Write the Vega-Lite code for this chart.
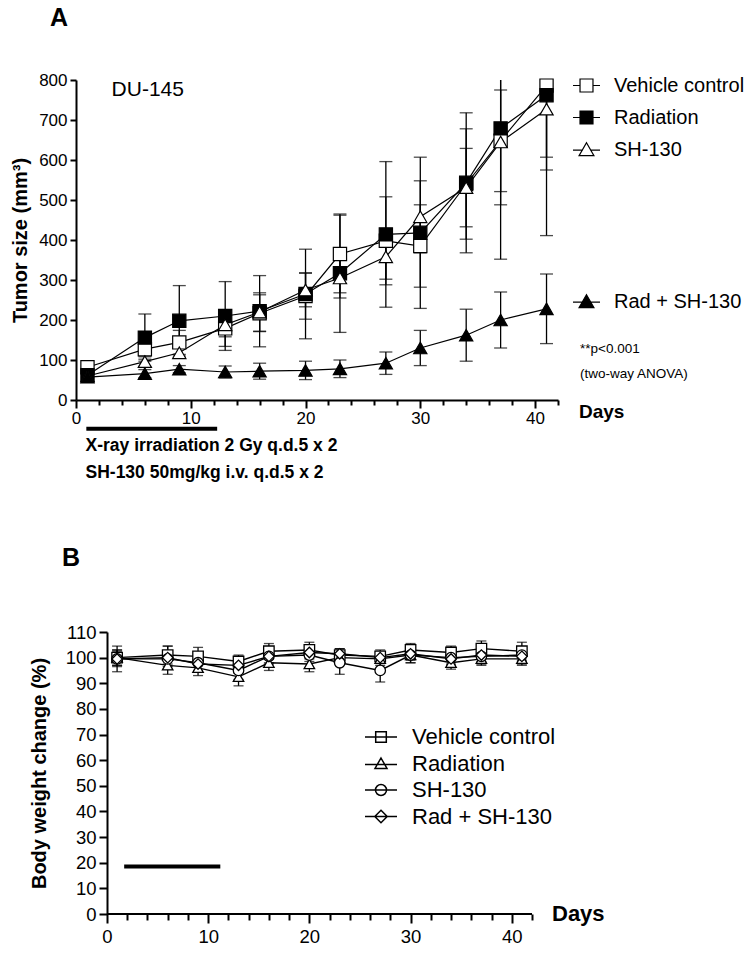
{
  "$schema": "https://vega.github.io/schema/vega-lite/v6.json",
  "background": "white",
  "padding": {"left": 10, "top": 6, "right": 5, "bottom": 5},
  "spacing": 65,
  "resolve": {"scale": {"shape": "independent", "fill": "independent", "x": "independent", "y": "independent"}, "legend": {"shape": "independent", "fill": "independent"}},
  "config": {
    "font": "Liberation Sans",
    "view": {"stroke": null},
    "axis": {"grid": false, "labelOverlap": false, "domainColor": "black", "domainWidth": 2, "tickColor": "black", "tickWidth": 2, "labelColor": "black", "titleColor": "black", "labelFont": "Liberation Sans", "titleFont": "Liberation Sans"},
    "legend": {"labelFont": "Liberation Sans", "labelColor": "black"},
    "text": {"font": "Liberation Sans", "color": "black"}
  },
  "datasets": {
    "tumor": [
      {"day": 1, "group": "Vehicle control", "mean": 82, "sem": 8},
      {"day": 6, "group": "Vehicle control", "mean": 127, "sem": 25},
      {"day": 9, "group": "Vehicle control", "mean": 144, "sem": 30},
      {"day": 13, "group": "Vehicle control", "mean": 179, "sem": 45},
      {"day": 16, "group": "Vehicle control", "mean": 217, "sem": 46},
      {"day": 20, "group": "Vehicle control", "mean": 260, "sem": 58},
      {"day": 23, "group": "Vehicle control", "mean": 365, "sem": 97},
      {"day": 27, "group": "Vehicle control", "mean": 398, "sem": 110},
      {"day": 30, "group": "Vehicle control", "mean": 385, "sem": 103},
      {"day": 34, "group": "Vehicle control", "mean": 540, "sem": 138},
      {"day": 37, "group": "Vehicle control", "mean": 648, "sem": 127},
      {"day": 41, "group": "Vehicle control", "mean": 786, "sem": 179},
      {"day": 1, "group": "Radiation", "mean": 62, "sem": 6},
      {"day": 6, "group": "Radiation", "mean": 156, "sem": 59},
      {"day": 9, "group": "Radiation", "mean": 198, "sem": 88},
      {"day": 13, "group": "Radiation", "mean": 210, "sem": 86},
      {"day": 16, "group": "Radiation", "mean": 222, "sem": 89},
      {"day": 20, "group": "Radiation", "mean": 265, "sem": 112},
      {"day": 23, "group": "Radiation", "mean": 317, "sem": 148},
      {"day": 27, "group": "Radiation", "mean": 414, "sem": 182},
      {"day": 30, "group": "Radiation", "mean": 418, "sem": 189},
      {"day": 34, "group": "Radiation", "mean": 543, "sem": 175},
      {"day": 37, "group": "Radiation", "mean": 679, "sem": 327},
      {"day": 41, "group": "Radiation", "mean": 762, "sem": 351},
      {"day": 1, "group": "SH-130", "mean": 60, "sem": 6},
      {"day": 6, "group": "SH-130", "mean": 96, "sem": 12},
      {"day": 9, "group": "SH-130", "mean": 118, "sem": 12},
      {"day": 13, "group": "SH-130", "mean": 188, "sem": 30},
      {"day": 16, "group": "SH-130", "mean": 220, "sem": 48},
      {"day": 20, "group": "SH-130", "mean": 275, "sem": 42},
      {"day": 23, "group": "SH-130", "mean": 305, "sem": 50},
      {"day": 27, "group": "SH-130", "mean": 358, "sem": 56},
      {"day": 30, "group": "SH-130", "mean": 458, "sem": 90},
      {"day": 34, "group": "SH-130", "mean": 531, "sem": 98},
      {"day": 37, "group": "SH-130", "mean": 645, "sem": 157},
      {"day": 41, "group": "SH-130", "mean": 727, "sem": 152},
      {"day": 1, "group": "Rad + SH-130", "mean": 57, "sem": 7},
      {"day": 6, "group": "Rad + SH-130", "mean": 66, "sem": 10},
      {"day": 9, "group": "Rad + SH-130", "mean": 77, "sem": 9},
      {"day": 13, "group": "Rad + SH-130", "mean": 70, "sem": 15},
      {"day": 16, "group": "Rad + SH-130", "mean": 72, "sem": 20},
      {"day": 20, "group": "Rad + SH-130", "mean": 74, "sem": 23},
      {"day": 23, "group": "Rad + SH-130", "mean": 78, "sem": 22},
      {"day": 27, "group": "Rad + SH-130", "mean": 92, "sem": 28},
      {"day": 30, "group": "Rad + SH-130", "mean": 130, "sem": 44},
      {"day": 34, "group": "Rad + SH-130", "mean": 162, "sem": 65},
      {"day": 37, "group": "Rad + SH-130", "mean": 200, "sem": 70},
      {"day": 41, "group": "Rad + SH-130", "mean": 228, "sem": 87}
    ],
    "weight": [
      {"day": 1, "group": "Vehicle control", "mean": 100, "sem": 3},
      {"day": 6, "group": "Vehicle control", "mean": 101, "sem": 3.5},
      {"day": 9, "group": "Vehicle control", "mean": 100.5, "sem": 3.5},
      {"day": 13, "group": "Vehicle control", "mean": 98.5, "sem": 2.5},
      {"day": 16, "group": "Vehicle control", "mean": 102.5, "sem": 3},
      {"day": 20, "group": "Vehicle control", "mean": 103, "sem": 3},
      {"day": 23, "group": "Vehicle control", "mean": 101, "sem": 2.5},
      {"day": 27, "group": "Vehicle control", "mean": 100.5, "sem": 2.5},
      {"day": 30, "group": "Vehicle control", "mean": 103, "sem": 2.5},
      {"day": 34, "group": "Vehicle control", "mean": 102, "sem": 2.5},
      {"day": 37, "group": "Vehicle control", "mean": 103.5, "sem": 3},
      {"day": 41, "group": "Vehicle control", "mean": 102.5, "sem": 3.5},
      {"day": 1, "group": "Radiation", "mean": 100, "sem": 3},
      {"day": 6, "group": "Radiation", "mean": 97, "sem": 3.5},
      {"day": 9, "group": "Radiation", "mean": 96, "sem": 3},
      {"day": 13, "group": "Radiation", "mean": 92.5, "sem": 3.5},
      {"day": 16, "group": "Radiation", "mean": 98, "sem": 3},
      {"day": 20, "group": "Radiation", "mean": 97.5, "sem": 3},
      {"day": 23, "group": "Radiation", "mean": 100, "sem": 2.5},
      {"day": 27, "group": "Radiation", "mean": 99.5, "sem": 2.5},
      {"day": 30, "group": "Radiation", "mean": 101, "sem": 3},
      {"day": 34, "group": "Radiation", "mean": 98, "sem": 2.5},
      {"day": 37, "group": "Radiation", "mean": 99.5, "sem": 2.5},
      {"day": 41, "group": "Radiation", "mean": 99.5, "sem": 2.5},
      {"day": 1, "group": "SH-130", "mean": 99.5, "sem": 5},
      {"day": 6, "group": "SH-130", "mean": 99.5, "sem": 3},
      {"day": 9, "group": "SH-130", "mean": 98, "sem": 3},
      {"day": 13, "group": "SH-130", "mean": 95, "sem": 3.5},
      {"day": 16, "group": "SH-130", "mean": 100.5, "sem": 2.5},
      {"day": 20, "group": "SH-130", "mean": 101, "sem": 2.5},
      {"day": 23, "group": "SH-130", "mean": 98, "sem": 4.5},
      {"day": 27, "group": "SH-130", "mean": 95, "sem": 4.5},
      {"day": 30, "group": "SH-130", "mean": 101, "sem": 3},
      {"day": 34, "group": "SH-130", "mean": 100, "sem": 2.5},
      {"day": 37, "group": "SH-130", "mean": 100.5, "sem": 3},
      {"day": 41, "group": "SH-130", "mean": 101, "sem": 2.5},
      {"day": 1, "group": "Rad + SH-130", "mean": 99.5, "sem": 3},
      {"day": 6, "group": "Rad + SH-130", "mean": 100, "sem": 4.5},
      {"day": 9, "group": "Rad + SH-130", "mean": 97.5, "sem": 3},
      {"day": 13, "group": "Rad + SH-130", "mean": 97, "sem": 3},
      {"day": 16, "group": "Rad + SH-130", "mean": 100.5, "sem": 3},
      {"day": 20, "group": "Rad + SH-130", "mean": 102, "sem": 2.5},
      {"day": 23, "group": "Rad + SH-130", "mean": 101.5, "sem": 2},
      {"day": 27, "group": "Rad + SH-130", "mean": 100, "sem": 2},
      {"day": 30, "group": "Rad + SH-130", "mean": 101.5, "sem": 2.5},
      {"day": 34, "group": "Rad + SH-130", "mean": 99.5, "sem": 2.5},
      {"day": 37, "group": "Rad + SH-130", "mean": 101, "sem": 2.5},
      {"day": 41, "group": "Rad + SH-130", "mean": 100.5, "sem": 3}
    ]
  },
  "vconcat": [
    {
      "width": 482,
      "height": 320,
      "title": {"text": "A", "anchor": "start", "frame": "group", "dx": -26, "offset": 40, "fontSize": 25, "fontWeight": "bold", "font": "Liberation Sans", "color": "black"},
      "data": {"name": "tumor"},
      "resolve": {"scale": {"shape": "independent", "fill": "independent"}, "legend": {"shape": "independent"}},
      "layer": [
        {
          "mark": {"type": "errorbar", "color": "black", "clip": true, "ticks": {"size": 13, "thickness": 1.3, "color": "black"}, "rule": {"strokeWidth": 1.3, "color": "black"}},
          "encoding": {
            "x": {"field": "day", "type": "quantitative", "scale": {"domain": [0, 42], "nice": false, "zero": false},
              "axis": {"values": [0,2,4,6,8,10,12,14,16,18,20,22,24,26,28,30,32,34,36,38,40,42], "tickCount": 100, "format": "d", "labelExpr": "datum.value % 10 === 0 ? datum.label : ''", "tickSize": {"condition": {"test": "datum.value % 10 === 0", "value": 8}, "value": 5}, "labelFontSize": 17, "labelPadding": 2, "labelFlush": false,
                "title": ["X-ray irradiation 2 Gy q.d.5 x 2", "SH-130 50mg/kg i.v. q.d.5 x 2"], "titleFontSize": 17.5, "titleFontWeight": "bold", "titleAnchor": "start", "titleAlign": "left", "titleX": 9, "titleY": 45, "titleBaseline": "middle", "titleLineHeight": 27}},
            "y": {"field": "mean", "type": "quantitative", "scale": {"domain": [0, 800], "nice": false},
              "axis": {"values": [0,100,200,300,400,500,600,700,800], "tickCount": 100, "format": "d", "tickSize": 6, "labelPadding": 3, "labelFontSize": 17, "title": "Tumor size (mm³)", "titleFontSize": 20, "titleFontWeight": "bold", "titlePadding": 8}},
            "yError": {"field": "sem"},
            "detail": {"field": "group"}
          }
        },
        {
          "mark": {"type": "line", "color": "black", "strokeWidth": 1.2},
          "encoding": {
            "x": {"field": "day", "type": "quantitative"},
            "y": {"field": "mean", "type": "quantitative"},
            "detail": {"field": "group"}
          }
        },
        {
          "transform": [{"filter": "datum.group !== 'Rad + SH-130'"}],
          "mark": {"type": "point", "filled": true, "stroke": "black", "strokeWidth": 1.2, "size": 175, "opacity": 1},
          "encoding": {
            "x": {"field": "day", "type": "quantitative"},
            "y": {"field": "mean", "type": "quantitative"},
            "shape": {"field": "group", "type": "nominal", "scale": {"domain": ["Vehicle control", "Radiation", "SH-130"], "range": ["square", "square", "triangle-up"]}, "legend": null},
            "fill": {"field": "group", "type": "nominal", "scale": {"domain": ["Vehicle control", "Radiation", "SH-130"], "range": ["white", "black", "white"]}, "legend": null}
          }
        },
        {
          "transform": [{"filter": "datum.group === 'Rad + SH-130'"}],
          "mark": {"type": "point", "filled": true, "fill": "black", "stroke": "black", "strokeWidth": 1.2, "size": 175, "opacity": 1, "shape": "triangle-up"},
          "encoding": {
            "x": {"field": "day", "type": "quantitative"},
            "y": {"field": "mean", "type": "quantitative"}
          }
        },
        {
          "transform": [{"filter": "false"}],
          "mark": {"type": "point", "filled": true, "stroke": "black", "strokeWidth": 1.2, "opacity": 1},
          "encoding": {
            "x": {"field": "day", "type": "quantitative"},
            "y": {"field": "mean", "type": "quantitative"},
            "shape": {"field": "group", "type": "nominal", "scale": {"domain": ["Vehicle control", "Radiation", "SH-130"], "range": ["M-1,0H-0.48M0.48,0H1M-0.48,-0.48H0.48V0.48H-0.48Z", "M-1,0H-0.48M0.48,0H1M-0.48,-0.48H0.48V0.48H-0.48Z", "M-1,0.05H-0.27M0.27,0.05H1M0,-0.5L0.55,0.45L-0.55,0.45Z"]},
              "legend": {"title": null, "orient": "none", "legendX": 496, "legendY": -9, "padding": 0, "symbolSize": 729, "labelFontSize": 20, "labelOffset": 13, "rowPadding": 7, "symbolStrokeWidth": 1.2}},
            "fill": {"field": "group", "type": "nominal", "scale": {"domain": ["Vehicle control", "Radiation", "SH-130"], "range": ["white", "black", "white"]}, "legend": null}
          }
        },
        {
          "transform": [{"filter": "false"}],
          "mark": {"type": "point", "filled": true, "fill": "black", "stroke": "black", "strokeWidth": 1.2, "opacity": 1},
          "encoding": {
            "x": {"field": "day", "type": "quantitative"},
            "y": {"field": "mean", "type": "quantitative"},
            "shape": {"field": "group", "type": "nominal", "scale": {"domain": ["Rad + SH-130"], "range": ["M-1,0.05H-0.27M0.27,0.05H1M0,-0.5L0.55,0.45L-0.55,0.45Z"]},
              "legend": {"title": null, "orient": "none", "legendX": 496, "legendY": 207, "padding": 0, "symbolSize": 729, "labelFontSize": 20, "labelOffset": 13, "symbolStrokeWidth": 1.2}}
          }
        },
        {
          "data": {"values": [{}]},
          "mark": {"type": "rule", "color": "black", "strokeWidth": 4},
          "encoding": {"x": {"datum": 0.9, "type": "quantitative"}, "x2": {"datum": 12.3}, "y": {"datum": -72, "type": "quantitative"}}
        },
        {
          "data": {"values": [{}]},
          "mark": {"type": "text", "text": "DU-145", "fontSize": 21, "align": "left", "baseline": "middle"},
          "encoding": {"x": {"datum": 3.1, "type": "quantitative"}, "y": {"datum": 775, "type": "quantitative"}}
        },
        {
          "data": {"values": [{}]},
          "mark": {"type": "text", "text": "Days", "fontSize": 19, "fontWeight": "bold", "align": "left", "baseline": "middle", "dx": 21, "dy": 12},
          "encoding": {"x": {"datum": 42, "type": "quantitative"}, "y": {"datum": 0, "type": "quantitative"}}
        },
        {
          "data": {"values": [{}]},
          "mark": {"type": "text", "text": ["**p<0.001", "(two-way ANOVA)"], "fontSize": 13.5, "align": "left", "baseline": "middle", "lineHeight": 25, "dx": 22},
          "encoding": {"x": {"datum": 42, "type": "quantitative"}, "y": {"datum": 128, "type": "quantitative"}}
        }
      ]
    },
    {
      "width": 456,
      "height": 282,
      "title": {"text": "B", "anchor": "start", "frame": "group", "dx": -14, "offset": 52, "fontSize": 25, "fontWeight": "bold", "font": "Liberation Sans", "color": "black"},
      "data": {"name": "weight"},
      "resolve": {"scale": {"shape": "independent"}, "legend": {"shape": "independent"}},
      "layer": [
        {
          "mark": {"type": "errorbar", "color": "black", "ticks": {"size": 10, "thickness": 1.3, "color": "black"}, "rule": {"strokeWidth": 1.3, "color": "black"}},
          "encoding": {
            "x": {"field": "day", "type": "quantitative", "scale": {"domain": [-3.06, 42], "nice": false, "zero": false},
              "axis": {"values": [0,2,4,6,8,10,12,14,16,18,20,22,24,26,28,30,32,34,36,38,40,42], "tickCount": 100, "format": "d", "domain": false, "labelExpr": "datum.value % 10 === 0 ? datum.label : ''", "tickSize": {"condition": {"test": "datum.value % 10 === 0", "value": 9}, "value": 6}, "labelFontSize": 18.5, "labelPadding": 4, "labelFlush": false, "title": null}},
            "y": {"field": "mean", "type": "quantitative", "scale": {"domain": [0, 110], "nice": false},
              "axis": {"values": [0,10,20,30,40,50,60,70,80,90,100,110], "tickCount": 100, "format": "d", "offset": -31, "tickSize": 8, "labelPadding": 3, "labelFontSize": 18.5, "title": "Body weight change (%)", "titleFontSize": 20, "titleFontWeight": "bold", "titlePadding": 16}},
            "yError": {"field": "sem"},
            "detail": {"field": "group"}
          }
        },
        {
          "mark": {"type": "line", "color": "black", "strokeWidth": 1.4},
          "encoding": {
            "x": {"field": "day", "type": "quantitative"},
            "y": {"field": "mean", "type": "quantitative"},
            "detail": {"field": "group"}
          }
        },
        {
          "mark": {"type": "point", "filled": true, "fill": "white", "stroke": "black", "strokeWidth": 1.3, "size": 110, "opacity": 1},
          "encoding": {
            "x": {"field": "day", "type": "quantitative"},
            "y": {"field": "mean", "type": "quantitative"},
            "shape": {"field": "group", "type": "nominal", "scale": {"domain": ["Vehicle control", "Radiation", "SH-130", "Rad + SH-130"], "range": ["square", "triangle-up", "circle", "diamond"]}, "legend": null}
          }
        },
        {
          "transform": [{"filter": "false"}],
          "mark": {"type": "point", "filled": true, "fill": "white", "stroke": "black", "strokeWidth": 1.5, "opacity": 1},
          "encoding": {
            "x": {"field": "day", "type": "quantitative"},
            "y": {"field": "mean", "type": "quantitative"},
            "shape": {"field": "group", "type": "nominal", "scale": {"domain": ["Vehicle control", "Radiation", "SH-130", "Rad + SH-130"], "range": ["M-1.6,0H1.6M-0.53,-0.53H0.53V0.53H-0.53Z", "M-1.6,0.1H1.6M0,-0.55L0.6,0.5L-0.6,0.5Z", "M-1.6,0H1.6M-0.55,0A0.55,0.55,0,1,0,0.55,0A0.55,0.55,0,1,0,-0.55,0Z", "M-1.6,0H1.6M0,-0.62L0.62,0L0,0.62L-0.62,0Z"]},
              "legend": {"title": null, "orient": "none", "legendX": 294, "legendY": 94, "padding": 0, "symbolSize": 400, "labelFontSize": 22, "labelOffset": 20, "rowPadding": 4.5, "symbolStrokeWidth": 1.5}}
          }
        },
        {
          "data": {"values": [{}]},
          "mark": {"type": "rule", "color": "black", "strokeWidth": 2},
          "encoding": {"x": {"datum": 0, "type": "quantitative"}, "x2": {"datum": 42}, "y": {"datum": 0, "type": "quantitative"}}
        },
        {
          "data": {"values": [{}]},
          "mark": {"type": "rule", "color": "black", "strokeWidth": 4},
          "encoding": {"x": {"datum": 1.7, "type": "quantitative"}, "x2": {"datum": 11.2}, "y": {"datum": 18.5, "type": "quantitative"}}
        },
        {
          "data": {"values": [{}]},
          "mark": {"type": "text", "text": "Days", "fontSize": 22, "fontWeight": "bold", "align": "left", "baseline": "middle", "dx": 20, "dy": 0},
          "encoding": {"x": {"datum": 42, "type": "quantitative"}, "y": {"datum": 0, "type": "quantitative"}}
        }
      ]
    }
  ]
}
